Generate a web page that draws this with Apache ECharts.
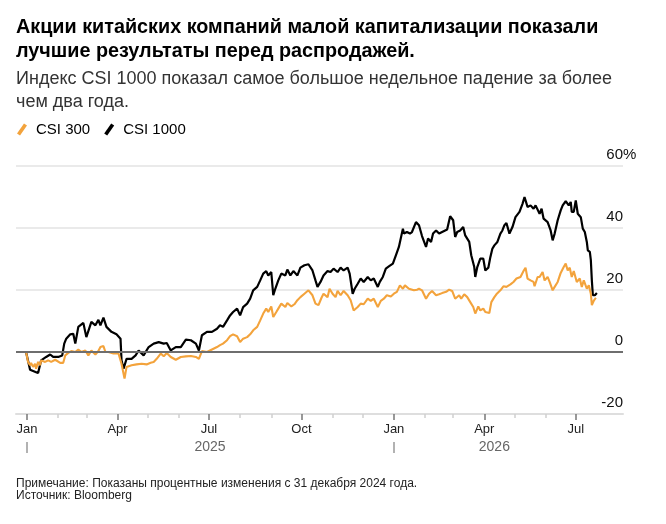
<!DOCTYPE html>
<html>
<head>
    <meta charset="utf-8">
    <title>CSI 300 vs CSI 1000</title>
    <script src="https://cdnjs.cloudflare.com/ajax/libs/echarts/6.0.0/echarts.min.js"></script>
    <style>
        html, body { margin: 0; padding: 0; background: #fff; }
        #chart { width: 666px; height: 524px; }
    </style>
</head>
<body>
    <div id="chart"></div>

    <script>
        // % change since 31 Dec 2024
        const csi1000 = [
            ['2024-12-31', 0], ['2025-01-04', -5.7], ['2025-01-07', -6.1], ['2025-01-10', -6.5], ['2025-01-12', -6.8],
            ['2025-01-15', -2.7], ['2025-01-20', -1.6], ['2025-01-24', -0.8], ['2025-01-27', -1.6], ['2025-02-01', -1.6],
            ['2025-02-05', -1.1], ['2025-02-07', 2.7], ['2025-02-09', 4.3], ['2025-02-13', 5.7], ['2025-02-16', 5.9],
            ['2025-02-18', 2.7], ['2025-02-21', 8.1], ['2025-02-26', 9.4], ['2025-03-01', 4.8], ['2025-03-06', 9.7],
            ['2025-03-10', 8.6], ['2025-03-13', 10.4], ['2025-03-15', 8.6], ['2025-03-18', 11.1], ['2025-03-21', 8.1],
            ['2025-03-26', 6.5], ['2025-03-31', 5.7], ['2025-04-04', 4.3], ['2025-04-05', -2.7], ['2025-04-07', -5.4],
            ['2025-04-10', -2.2], ['2025-04-15', -2.2], ['2025-04-19', -1.1], ['2025-04-22', 0.5], ['2025-04-27', -1.1],
            ['2025-05-02', 1.6], ['2025-05-07', 2.7], ['2025-05-12', 3.2], ['2025-05-17', 2.7], ['2025-05-20', 2.9],
            ['2025-05-24', 0.5], ['2025-05-29', 1.6], ['2025-06-03', 1.6], ['2025-06-08', 4.0], ['2025-06-13', 3.8],
            ['2025-06-18', 2.7], ['2025-06-21', 0.5], ['2025-06-24', 5.4], ['2025-06-29', 6.5], ['2025-07-04', 6.5],
            ['2025-07-09', 7.5], ['2025-07-12', 8.6], ['2025-07-15', 8.1], ['2025-07-19', 10.2], ['2025-07-22', 11.8],
            ['2025-07-25', 12.9], ['2025-07-29', 14.0], ['2025-08-01', 11.8], ['2025-08-04', 14.5], ['2025-08-08', 15.6],
            ['2025-08-11', 17.2], ['2025-08-14', 19.9], ['2025-08-18', 21.0], ['2025-08-21', 23.1], ['2025-08-24', 25.3],
            ['2025-08-27', 26.1], ['2025-08-29', 24.7], ['2025-09-01', 25.8], ['2025-09-03', 18.3], ['2025-09-05', 20.4],
            ['2025-09-08', 23.1], ['2025-09-11', 25.3], ['2025-09-15', 24.7], ['2025-09-17', 26.6], ['2025-09-20', 24.7],
            ['2025-09-23', 26.1], ['2025-09-27', 24.7], ['2025-09-30', 27.2], ['2025-10-04', 28.0], ['2025-10-08', 28.3],
            ['2025-10-12', 26.3], ['2025-10-15', 23.1], ['2025-10-17', 21.0], ['2025-10-20', 22.6], ['2025-10-23', 24.7],
            ['2025-10-27', 26.1], ['2025-10-30', 25.8], ['2025-11-02', 26.9], ['2025-11-06', 25.8], ['2025-11-09', 27.2],
            ['2025-11-12', 26.3], ['2025-11-16', 27.2], ['2025-11-18', 25.3], ['2025-11-21', 18.8], ['2025-11-23', 20.4],
            ['2025-11-26', 22.0], ['2025-11-29', 23.7], ['2025-12-02', 22.6], ['2025-12-06', 24.2], ['2025-12-09', 23.1],
            ['2025-12-12', 23.7], ['2025-12-16', 21.0], ['2025-12-18', 22.6], ['2025-12-21', 24.2], ['2025-12-24', 26.9],
            ['2025-12-27', 27.6], ['2025-12-31', 28.5], ['2026-01-03', 31.2], ['2026-01-06', 33.9], ['2026-01-10', 39.8],
            ['2026-01-11', 38.2], ['2026-01-14', 38.7], ['2026-01-17', 38.2], ['2026-01-19', 38.7], ['2026-01-23', 41.9],
            ['2026-01-26', 40.9], ['2026-01-29', 37.4], ['2026-02-02', 33.9], ['2026-02-04', 36.6], ['2026-02-07', 35.5],
            ['2026-02-09', 38.2], ['2026-02-12', 39.2], ['2026-02-15', 38.2], ['2026-02-18', 38.7], ['2026-02-23', 39.5],
            ['2026-02-26', 43.8], ['2026-03-01', 42.5], ['2026-03-03', 37.1], ['2026-03-05', 38.7], ['2026-03-08', 39.2],
            ['2026-03-11', 40.3], ['2026-03-13', 37.6], ['2026-03-17', 35.5], ['2026-03-19', 31.2], ['2026-03-22', 27.4],
            ['2026-03-23', 24.2], ['2026-03-25', 27.4], ['2026-03-28', 30.1], ['2026-03-31', 30.1], ['2026-04-02', 26.3],
            ['2026-04-05', 27.2], ['2026-04-07', 30.6], ['2026-04-09', 33.3], ['2026-04-11', 34.4], ['2026-04-14', 35.5],
            ['2026-04-17', 38.2], ['2026-04-19', 39.2], ['2026-04-21', 40.9], ['2026-04-23', 41.6], ['2026-04-26', 38.2],
            ['2026-04-29', 40.3], ['2026-05-02', 43.5], ['2026-05-06', 45.2], ['2026-05-09', 47.8], ['2026-05-11', 50.0],
            ['2026-05-14', 46.8], ['2026-05-17', 47.3], ['2026-05-20', 46.2], ['2026-05-22', 47.3], ['2026-05-26', 44.6],
            ['2026-05-28', 46.2], ['2026-05-30', 43.0], ['2026-06-03', 41.9], ['2026-06-06', 39.2], ['2026-06-08', 36.0],
            ['2026-06-10', 38.2], ['2026-06-13', 42.5], ['2026-06-16', 45.7], ['2026-06-18', 47.3], ['2026-06-21', 48.7],
            ['2026-06-24', 47.3], ['2026-06-26', 48.4], ['2026-06-27', 45.2], ['2026-06-29', 45.2], ['2026-07-01', 48.9],
            ['2026-07-03', 44.6], ['2026-07-06', 43.5], ['2026-07-08', 39.8], ['2026-07-10', 38.7], ['2026-07-12', 35.5],
            ['2026-07-13', 32.8], ['2026-07-15', 32.3], ['2026-07-16', 29.6], ['2026-07-17', 23.1], ['2026-07-18', 18.3],
            ['2026-07-20', 18.3], ['2026-07-22', 19.0]
        ];

        const csi300 = [
            ['2024-12-31', 0], ['2025-01-02', -3.2], ['2025-01-04', -4.3], ['2025-01-05', -3.5], ['2025-01-07', -4.8],
            ['2025-01-09', -3.8], ['2025-01-10', -5.4], ['2025-01-12', -3.2], ['2025-01-14', -4.3], ['2025-01-15', -2.7],
            ['2025-01-19', -3.2], ['2025-01-22', -2.7], ['2025-01-25', -3.2], ['2025-01-29', -2.5], ['2025-02-03', -3.5],
            ['2025-02-06', -3.5], ['2025-02-08', -1.1], ['2025-02-11', -0.3], ['2025-02-14', 0.3], ['2025-02-18', 0],
            ['2025-02-21', 0.8], ['2025-02-24', 0], ['2025-02-28', 0.5], ['2025-03-03', -1.1], ['2025-03-06', 0.5],
            ['2025-03-10', -0.8], ['2025-03-13', 0.3], ['2025-03-15', 1.6], ['2025-03-18', 1.9], ['2025-03-20', 0],
            ['2025-03-23', 0], ['2025-03-28', -0.5], ['2025-04-02', -0.5], ['2025-04-05', -3.8], ['2025-04-08', -8.6],
            ['2025-04-10', -4.8], ['2025-04-15', -4.3], ['2025-04-20', -4.0], ['2025-04-25', -3.8], ['2025-04-30', -4.0],
            ['2025-05-04', -3.5], ['2025-05-07', -3.2], ['2025-05-10', -2.2], ['2025-05-14', -0.5], ['2025-05-17', -1.4],
            ['2025-05-20', -0.3], ['2025-05-24', -1.6], ['2025-05-29', -2.5], ['2025-06-03', -1.6], ['2025-06-08', -1.4],
            ['2025-06-13', -1.3], ['2025-06-18', -1.6], ['2025-06-21', -2.2], ['2025-06-24', 0.3], ['2025-06-29', 0],
            ['2025-07-04', 0.8], ['2025-07-09', 1.6], ['2025-07-12', 2.2], ['2025-07-15', 2.7], ['2025-07-19', 3.8],
            ['2025-07-22', 5.1], ['2025-07-25', 5.7], ['2025-07-29', 5.1], ['2025-08-01', 3.2], ['2025-08-04', 4.3],
            ['2025-08-08', 4.8], ['2025-08-11', 5.7], ['2025-08-14', 7.0], ['2025-08-18', 8.1], ['2025-08-21', 10.2],
            ['2025-08-24', 12.4], ['2025-08-27', 14.0], ['2025-08-29', 12.9], ['2025-09-01', 14.7], ['2025-09-03', 11.3],
            ['2025-09-06', 12.9], ['2025-09-08', 14.0], ['2025-09-11', 15.6], ['2025-09-15', 14.5], ['2025-09-17', 15.8],
            ['2025-09-21', 14.7], ['2025-09-24', 15.4], ['2025-09-27', 16.7], ['2025-09-30', 17.7], ['2025-10-04', 18.8],
            ['2025-10-08', 19.9], ['2025-10-12', 18.3], ['2025-10-15', 15.6], ['2025-10-18', 15.1], ['2025-10-21', 17.5],
            ['2025-10-23', 18.8], ['2025-10-27', 17.7], ['2025-10-29', 20.4], ['2025-11-01', 18.8], ['2025-11-04', 17.7],
            ['2025-11-06', 19.7], ['2025-11-09', 18.3], ['2025-11-12', 19.7], ['2025-11-16', 18.3], ['2025-11-19', 16.7],
            ['2025-11-22', 13.4], ['2025-11-26', 14.5], ['2025-11-29', 15.6], ['2025-12-02', 15.4], ['2025-12-06', 17.2],
            ['2025-12-09', 16.5], ['2025-12-12', 17.2], ['2025-12-16', 14.5], ['2025-12-19', 16.5], ['2025-12-22', 17.2],
            ['2025-12-25', 18.3], ['2025-12-29', 17.9], ['2026-01-01', 18.8], ['2026-01-04', 19.4], ['2026-01-07', 21.5],
            ['2026-01-10', 20.4], ['2026-01-12', 21.5], ['2026-01-16', 20.4], ['2026-01-21', 19.9], ['2026-01-24', 20.1],
            ['2026-01-26', 20.4], ['2026-01-29', 19.9], ['2026-02-02', 17.2], ['2026-02-05', 18.8], ['2026-02-08', 19.7],
            ['2026-02-12', 18.3], ['2026-02-15', 18.6], ['2026-02-18', 19.0], ['2026-02-22', 19.4], ['2026-02-25', 20.1],
            ['2026-02-28', 19.7], ['2026-03-03', 17.2], ['2026-03-07', 18.3], ['2026-03-09', 17.2], ['2026-03-12', 18.6],
            ['2026-03-15', 17.7], ['2026-03-18', 16.1], ['2026-03-21', 14.5], ['2026-03-23', 12.4], ['2026-03-26', 14.7],
            ['2026-03-28', 13.4], ['2026-03-31', 14.0], ['2026-04-02', 12.9], ['2026-04-06', 12.6], ['2026-04-08', 16.1],
            ['2026-04-11', 17.7], ['2026-04-13', 18.6], ['2026-04-17', 19.9], ['2026-04-20', 21.2], ['2026-04-23', 21.0],
            ['2026-04-27', 21.8], ['2026-04-30', 22.6], ['2026-05-03', 23.7], ['2026-05-07', 24.2], ['2026-05-10', 26.1],
            ['2026-05-12', 27.2], ['2026-05-14', 23.7], ['2026-05-17', 23.1], ['2026-05-20', 22.6], ['2026-05-21', 21.2],
            ['2026-05-24', 24.2], ['2026-05-26', 24.2], ['2026-05-29', 25.8], ['2026-05-31', 23.1], ['2026-06-03', 24.2],
            ['2026-06-05', 22.6], ['2026-06-08', 19.9], ['2026-06-10', 21.0], ['2026-06-13', 22.6], ['2026-06-16', 25.5],
            ['2026-06-19', 27.4], ['2026-06-21', 28.5], ['2026-06-23', 26.3], ['2026-06-25', 27.2], ['2026-06-27', 24.2],
            ['2026-06-29', 26.1], ['2026-07-02', 22.6], ['2026-07-05', 23.7], ['2026-07-07', 21.0], ['2026-07-09', 23.1],
            ['2026-07-12', 20.4], ['2026-07-14', 21.5], ['2026-07-16', 18.8], ['2026-07-17', 15.1], ['2026-07-19', 16.6],
            ['2026-07-21', 17.5]
        ];

        const quarterTicks = ['2025-01-01', '2025-04-01', '2025-07-01', '2025-10-01', '2026-01-01', '2026-04-01', '2026-07-01'];
        const monthTicks = ['2025-02-01', '2025-03-01', '2025-05-01', '2025-06-01', '2025-08-01', '2025-09-01',
            '2025-11-01', '2025-12-01', '2026-02-01', '2026-03-01', '2026-05-01', '2026-06-01'];
        const yearTicks = ['2025-01-01', '2026-01-01'];
        const yearLabels = ['2025-07-02', '2026-04-11'];
        const monthNames = ['Jan', 'Feb', 'Mar', 'Apr', 'May', 'Jun', 'Jul', 'Aug', 'Sep', 'Oct', 'Nov', 'Dec'];

        const xMin = '2024-12-21';
        const xMax = '2026-08-17';

        const ts = s => new Date(s + 'T00:00:00').getTime();
        const FONT = '"Liberation Sans", Arial, sans-serif';
        const ORANGE = '#f3a33c';

        // x is a plain value axis holding timestamps, so custom tick positions work
        function baseX(extra) {
            return Object.assign({
                type: 'value',
                min: ts(xMin),
                max: ts(xMax),
                position: 'bottom',
                splitLine: { show: false },
                axisLine: { show: false, onZero: false },
                axisTick: { show: false },
                axisLabel: { show: false }
            }, extra);
        }

        const chart = echarts.init(document.getElementById('chart'));

        chart.setOption({
            animation: false,
            textStyle: { fontFamily: FONT },
            title: [
                {
                    text: 'Акции китайских компаний малой капитализации показали\nлучшие результаты перед распродажей.',
                    left: 16, top: 16, padding: 0,
                    textStyle: { fontFamily: FONT, fontSize: 19.8, fontWeight: 'bold', lineHeight: 24, color: '#000' }
                },
                {
                    text: 'Индекс CSI 1000 показал самое большое недельное падение за более\nчем два года.',
                    left: 16, top: 68, padding: 0,
                    textStyle: { fontFamily: FONT, fontSize: 18, fontWeight: 'normal', lineHeight: 23, color: '#333' }
                },
                {
                    text: 'Примечание: Показаны процентные изменения с 31 декабря 2024 года.\nИсточник: Bloomberg',
                    left: 16, top: 477, padding: 0,
                    textStyle: { fontFamily: FONT, fontSize: 12, fontWeight: 'normal', lineHeight: 12.5, color: '#222' }
                }
            ],
            legend: {
                data: ['CSI 300', 'CSI 1000'],
                left: 17, top: 122, padding: 0,
                icon: 'path://M0,10 L7,0 L10,2 L3,12 Z',
                itemWidth: 10, itemHeight: 12,
                itemGap: 14, itemTextGap: 5,
                textStyle: { fontFamily: FONT, fontSize: 15, color: '#000', padding: [0, 0, 0, 4] }
            },
            grid: { left: 16, right: 43, top: 166, bottom: 110 },
            xAxis: [
                baseX({
                    axisLine: { show: true, onZero: false, lineStyle: { color: '#dedede', width: 2 } },
                    axisTick: {
                        show: true, length: 6, customValues: quarterTicks.map(ts),
                        lineStyle: { color: '#777', width: 1.5 }
                    },
                    axisLabel: {
                        show: true, margin: 9, customValues: quarterTicks.map(ts),
                        formatter: v => monthNames[new Date(v).getMonth()],
                        fontFamily: FONT, fontSize: 13, color: '#222'
                    }
                }),
                baseX({
                    axisTick: {
                        show: true, length: 4, customValues: monthTicks.map(ts),
                        lineStyle: { color: '#cfcfcf', width: 1.5 }
                    }
                }),
                baseX({
                    offset: 28,
                    axisTick: {
                        show: true, length: 11, customValues: yearTicks.map(ts),
                        lineStyle: { color: '#999', width: 1.5 }
                    }
                }),
                baseX({
                    axisLabel: {
                        show: true, margin: 26, customValues: yearLabels.map(ts),
                        formatter: v => String(new Date(v).getFullYear()),
                        fontFamily: FONT, fontSize: 14, color: '#666'
                    }
                })
            ],
            yAxis: {
                type: 'value',
                position: 'right',
                min: -20, max: 60, interval: 20,
                axisLine: { show: false },
                axisTick: { show: false },
                splitLine: { lineStyle: { color: '#e3e3e3', width: 1.5 } },
                axisLabel: {
                    inside: true, margin: 0,
                    verticalAlign: 'bottom',
                    padding: [0, 0, 4, 0],
                    fontFamily: FONT, fontSize: 15, color: '#111',
                    // the "%" hangs past the right edge, as in the original
                    formatter: v => v === 60 ? '{n|60}{p|%}' : String(v),
                    rich: {
                        n: { fontFamily: FONT, fontSize: 15, color: '#111', align: 'left' },
                        p: { fontFamily: FONT, fontSize: 15, color: '#111', width: 0, align: 'left' }
                    }
                }
            },
            series: [
                {
                    name: 'CSI 1000',
                    type: 'line',
                    data: csi1000.map(d => [ts(d[0]), d[1]]),
                    showSymbol: false,
                    color: '#000',
                    lineStyle: { color: '#000', width: 2.2 },
                    markLine: {
                        silent: true,
                        symbol: 'none',
                        label: { show: false },
                        lineStyle: { color: '#6e6e6e', width: 2, type: 'solid' },
                        data: [{ yAxis: 0 }]
                    }
                },
                {
                    name: 'CSI 300',
                    type: 'line',
                    data: csi300.map(d => [ts(d[0]), d[1]]),
                    showSymbol: false,
                    color: ORANGE,
                    lineStyle: { color: ORANGE, width: 2.1 }
                }
            ]
        });
    </script>
</body>
</html>
